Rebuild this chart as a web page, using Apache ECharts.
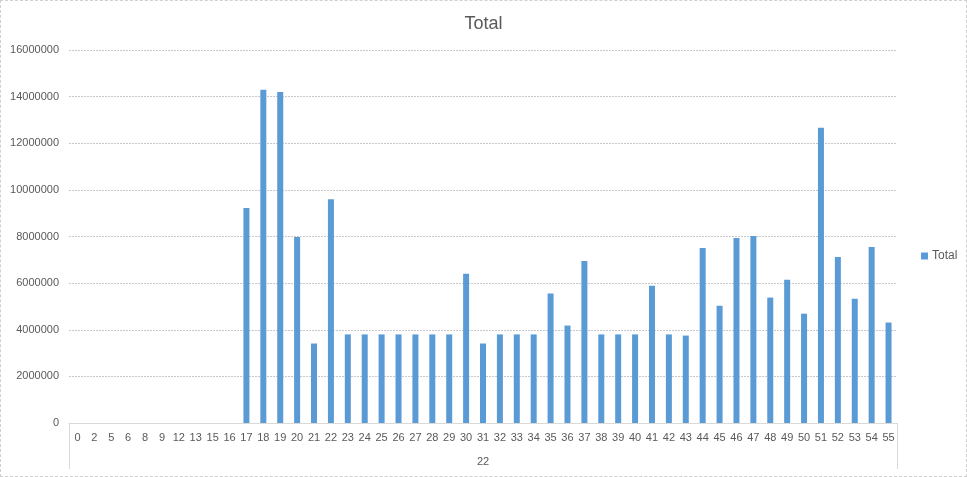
<!DOCTYPE html>
<html><head><meta charset="utf-8">
<script src="https://cdn.jsdelivr.net/npm/echarts@6/dist/echarts.min.js"></script>
<style>html,body{margin:0;padding:0;background:#fff}#c{width:967px;height:477px;box-sizing:border-box;border:1px dashed #d0d0d0}</style>
</head><body><div id="c"></div>
<script>
const categories = ['0','2','5','6','8','9','12','13','15','16','17','18','19','20','21','22','23','24','25','26','27','28','29','30','31','32','33','34','35','36','37','38','39','40','41','42','43','44','45','46','47','48','49','50','51','52','53','54','55'];
const groupLabels = ['22'];
const totalValues = [0,0,0,0,0,0,0,0,0,0,
  9220000,14290000,14200000,7980000,3410000,9600000,
  3800000,3800000,3800000,3800000,3800000,3800000,3800000,
  6400000,3410000,3800000,3800000,3800000,5550000,4180000,6950000,
  3800000,3800000,3800000,5890000,3800000,3750000,7510000,5030000,
  7940000,8020000,5380000,6140000,4690000,12670000,7120000,5330000,7550000,4310000];
const yTicks = [0,2000000,4000000,6000000,8000000,10000000,12000000,14000000,16000000];

const chart = echarts.init(document.getElementById('c'));
const txt = '#595959', font = 'Liberation Sans, Arial, sans-serif';
chart.setOption({
  animation:false,
  textStyle:{fontFamily:font},
  title:{text:'Total',left:'center',top:9,textStyle:{fontSize:18,fontWeight:'normal',color:txt,fontFamily:font}},
  legend:{data:['Total'],left:915,top:244,icon:'rect',itemWidth:7,itemHeight:7,itemGap:4,
    textStyle:{fontSize:12,color:txt,fontFamily:font,padding:[0,0,0,-1]}},
  grid:{left:68,right:69,top:49,bottom:53,containLabel:false},
  xAxis:[{
    type:'category',data:categories,position:'bottom',
    axisLine:{show:true,lineStyle:{color:'#d9d9d9'}},
    axisTick:{show:false},
    axisLabel:{interval:0,color:txt,fontSize:11,margin:9,fontFamily:font}
  },{
    type:'category',data:groupLabels,position:'bottom',
    axisLine:{show:false},
    axisTick:{show:true,length:46,alignWithLabel:false,lineStyle:{color:'#d9d9d9'}},
    axisLabel:{color:txt,fontSize:11,margin:33,fontFamily:font}
  }],
  yAxis:{
    type:'value',min:yTicks[0],max:yTicks[yTicks.length-1],interval:2000000,
    axisLine:{show:false},axisTick:{show:false},
    axisLabel:{color:txt,fontSize:11,margin:10,fontFamily:font,formatter:v=>String(v)},
    splitLine:{lineStyle:{color:'#c8c8c8',type:[2,1]}}
  },
  series:[{name:'Total',type:'bar',data:totalValues,barWidth:6,itemStyle:{color:'#5b9bd5'}}]
});
</script></body></html>
